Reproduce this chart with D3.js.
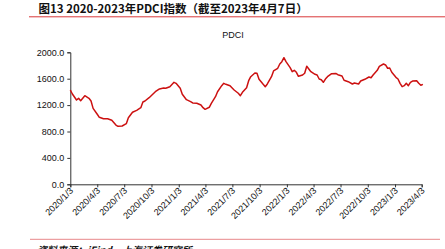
<!DOCTYPE html>
<html><head><meta charset="utf-8">
<script src="https://cdn.jsdelivr.net/npm/d3@7"></script>
<style>
html,body{margin:0;padding:0;background:#fff;}
svg{display:block;}
</style></head>
<body>
<svg id="c" width="445" height="249"></svg>
<script>
const dates = ["2020-01-03","2020-01-10","2020-01-24","2020-01-31","2020-02-07","2020-02-21","2020-03-06","2020-03-13","2020-03-20","2020-04-03","2020-04-10","2020-04-24","2020-05-08","2020-05-22","2020-06-05","2020-06-12","2020-06-26","2020-07-10","2020-07-17","2020-07-31","2020-08-14","2020-08-28","2020-09-04","2020-09-11","2020-09-25","2020-10-02","2020-10-16","2020-10-30","2020-11-13","2020-11-20","2020-12-04","2020-12-18","2020-12-25","2021-01-08","2021-01-15","2021-01-29","2021-02-12","2021-02-19","2021-03-05","2021-03-19","2021-03-26","2021-04-02","2021-04-16","2021-04-23","2021-05-07","2021-05-14","2021-05-28","2021-06-04","2021-06-11","2021-06-25","2021-07-09","2021-07-23","2021-07-30","2021-08-06","2021-08-20","2021-08-27","2021-09-03","2021-09-17","2021-09-24","2021-10-01","2021-10-15","2021-10-22","2021-10-29","2021-11-12","2021-11-19","2021-12-03","2021-12-10","2021-12-17","2021-12-24","2021-12-31","2022-01-14","2022-01-21","2022-01-28","2022-02-04","2022-02-11","2022-02-25","2022-03-04","2022-03-11","2022-03-18","2022-03-25","2022-04-08","2022-04-15","2022-04-22","2022-04-29","2022-05-06","2022-05-13","2022-05-20","2022-06-03","2022-06-17","2022-06-24","2022-07-08","2022-07-15","2022-07-29","2022-08-12","2022-08-19","2022-09-02","2022-09-09","2022-09-23","2022-10-07","2022-10-14","2022-10-21","2022-11-04","2022-11-11","2022-11-25","2022-12-02","2022-12-09","2022-12-16","2022-12-23","2023-01-06","2023-01-13","2023-01-20","2023-01-27","2023-02-03","2023-02-10","2023-02-17","2023-02-24","2023-03-03","2023-03-17","2023-03-24","2023-03-31","2023-04-07"];
const pdci = [1429,1368,1277,1303,1267,1342,1303,1262,1151,1061,1015,994,994,970,898,879,883,918,1009,1091,1121,1161,1247,1262,1312,1342,1403,1444,1459,1455,1479,1545,1530,1455,1364,1282,1252,1232,1227,1202,1161,1136,1167,1227,1327,1403,1494,1530,1515,1494,1429,1379,1342,1394,1464,1570,1630,1686,1682,1591,1515,1479,1520,1630,1717,1758,1823,1858,1918,1858,1767,1706,1727,1697,1636,1656,1682,1788,1747,1706,1667,1656,1595,1585,1545,1595,1630,1676,1680,1661,1641,1576,1555,1520,1535,1520,1565,1591,1626,1615,1656,1727,1788,1823,1808,1758,1762,1697,1621,1595,1530,1479,1494,1530,1494,1545,1565,1570,1530,1500,1515];
const xTickLabels = ["2020/1/3","2020/4/3","2020/7/3","2020/10/3","2021/1/3","2021/4/3","2021/7/3","2021/10/3","2022/1/3","2022/4/3","2022/7/3","2022/10/3","2023/1/3","2023/4/3"];
const yTicks = [0,400,800,1200,1600,2000];

const parse = d3.timeParse("%Y-%m-%d");
const parseTick = d3.timeParse("%Y/%m/%d");
const data = dates.map((d,i)=>({date:parse(d), v:pdci[i]}));
const tickDates = xTickLabels.map(s=>parseTick(s));

const svg = d3.select("#c");
const L = 70.3, R = 421.7, T = 52.3, B = 184.3;

const x = d3.scaleTime().domain([tickDates[0], tickDates[tickDates.length-1]]).range([L, R]);
const y = d3.scaleLinear().domain([0,2000]).range([B, T]);

// header
svg.append("text").attr("x",38.5).attr("y",13.3).attr("font-family","'Noto Sans CJK SC'")
  .attr("font-size",11.5).attr("font-weight","bold").attr("fill","#111")
  .text("图13 2020-2023年PDCI指数（截至2023年4月7日）");
svg.append("line").attr("x1",29).attr("x2",445).attr("y1",16.8).attr("y2",16.8)
  .attr("stroke","#d9383a").attr("stroke-width",1);

svg.append("text").attr("x",233).attr("y",37.5).attr("text-anchor","middle")
  .attr("font-family","'Liberation Sans', Arial").attr("font-size",9).attr("fill","#111").text("PDCI");

// y axis
const ya = svg.append("g").attr("transform",`translate(${L},0)`)
  .call(d3.axisLeft(y).tickValues(yTicks).tickSize(3).tickPadding(3).tickFormat(d3.format(".1f")));
// x axis
const xa = svg.append("g").attr("transform",`translate(0,${B})`)
  .call(d3.axisBottom(x).tickValues(tickDates).tickSize(3).tickFormat((d,i)=>xTickLabels[i]));
[ya,xa].forEach(g=>{
  g.select(".domain").attr("stroke","#333").attr("stroke-width",1);
  g.selectAll(".tick line").attr("stroke","#333");
  g.selectAll("text").attr("font-family","'Liberation Sans', Arial").attr("font-size",9).attr("fill","#111");
});
xa.selectAll(".tick text").attr("text-anchor","end").attr("dy",null).attr("y",0)
  .attr("transform","translate(3,7) rotate(-45)");

// line
svg.append("path").datum(data)
  .attr("fill","none").attr("stroke","#cc1111").attr("stroke-width",1.5).attr("stroke-linejoin","round")
  .attr("d", d3.line().x(d=>x(d.date)).y(d=>y(d.v)));

// footer
svg.append("line").attr("x1",30).attr("x2",440).attr("y1",239.3).attr("y2",239.3)
  .attr("stroke","#e8878a").attr("stroke-width",1);
svg.append("text").attr("x",37).attr("y",254).attr("font-family","'Noto Sans CJK SC'")
  .attr("font-size",10).attr("font-weight","bold").attr("font-style","italic").attr("fill","#111")
  .text("资料来源：iFind，上海证券研究所");
</script>
</body></html>
